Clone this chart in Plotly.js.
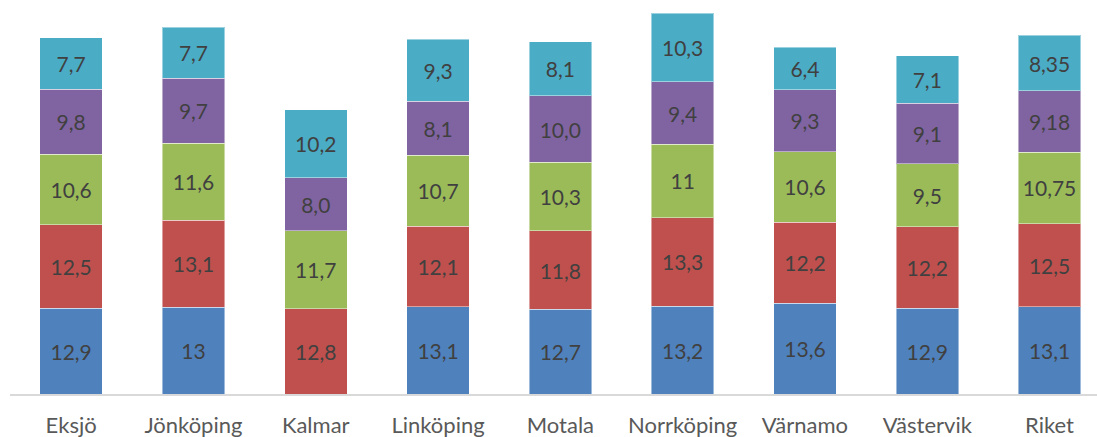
<!DOCTYPE html>
<html>
<head>
<meta charset="utf-8">
<script src="https://cdn.plot.ly/plotly-3.0.1.min.js"></script>
<style>
  html, body { margin: 0; padding: 0; background: #ffffff; }
  #chart { width: 1097px; height: 437px; }
</style>
</head>
<body>
<div id="chart"></div>
<script>
// Kommuner / orter längs x-axeln
const categories = ['Eksjö', 'Jönköping', 'Kalmar', 'Linköping', 'Motala', 'Norrköping', 'Värnamo', 'Västervik', 'Riket'];

// Värden per serie, skrivna som de visas (svensk decimalkomma); null = saknas
const serie1 = ['12,9', '13', null, '13,1', '12,7', '13,2', '13,6', '12,9', '13,1'];
const serie2 = ['12,5', '13,1', '12,8', '12,1', '11,8', '13,3', '12,2', '12,2', '12,5'];
const serie3 = ['10,6', '11,6', '11,7', '10,7', '10,3', '11', '10,6', '9,5', '10,75'];
const serie4 = ['9,8', '9,7', '8,0', '8,1', '10,0', '9,4', '9,3', '9,1', '9,18'];
const serie5 = ['7,7', '7,7', '10,2', '9,3', '8,1', '10,3', '6,4', '7,1', '8,35'];

const seriesNames = ['Serie 1', 'Serie 2', 'Serie 3', 'Serie 4', 'Serie 5'];
const seriesColors = ['#4F81BD', '#C0504D', '#9BBB59', '#8064A2', '#4BACC6'];

const toNumber = s => (s === null ? null : parseFloat(s.replace(',', '.')));

const traces = [serie1, serie2, serie3, serie4, serie5].map((labels, i) => ({
  type: 'bar',
  name: seriesNames[i],
  x: categories,
  y: labels.map(toNumber),
  text: labels.map(s => (s === null ? '' : s)),
  texttemplate: '%{text}',
  textposition: 'inside',
  insidetextanchor: 'middle',
  textangle: 0,
  constraintext: 'none',
  insidetextfont: { family: 'Lato, sans-serif', size: 21, color: '#404040' },
  marker: { color: seriesColors[i], line: { color: 'rgba(255,255,255,0.45)', width: 1 } },
  hoverinfo: 'x+y+name'
}));

const layout = {
  width: 1097,
  height: 437,
  margin: { l: 10, r: 0, t: 0, b: 43, pad: 0 },
  barmode: 'stack',
  bargap: 0.489,
  showlegend: false,
  paper_bgcolor: '#ffffff',
  plot_bgcolor: '#ffffff',
  font: { family: 'Lato, sans-serif', color: '#595959' },
  xaxis: {
    type: 'category',
    range: [-0.5, 8.388],
    showline: true,
    linecolor: '#d9d9d9',
    linewidth: 1.5,
    ticks: '',
    ticklabelstandoff: 11,
    showgrid: false,
    zeroline: false,
    tickfont: { family: 'Lato, sans-serif', size: 22, color: '#595959' },
    fixedrange: true
  },
  yaxis: {
    range: [0, 59.19],
    visible: false,
    showgrid: false,
    zeroline: false,
    fixedrange: true
  }
};

Plotly.newPlot('chart', traces, layout, { displayModeBar: false, staticPlot: true });
</script>
</body>
</html>
